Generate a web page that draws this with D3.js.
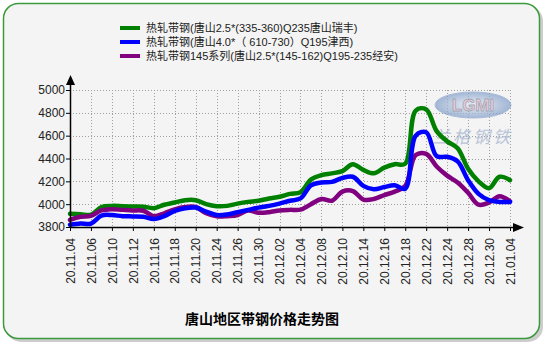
<!DOCTYPE html>
<html><head><meta charset="utf-8">
<script src="https://cdn.jsdelivr.net/npm/d3@7"></script>
<style>body{margin:0;background:#fff}</style>
</head><body>
<svg id="c" width="546" height="345"></svg>
<script>
const dates = ["20.11.04","20.11.05","20.11.06","20.11.09","20.11.10","20.11.11","20.11.12","20.11.13","20.11.16","20.11.17","20.11.18","20.11.19","20.11.20","20.11.23","20.11.24","20.11.25","20.11.26","20.11.27","20.11.30","20.12.01","20.12.02","20.12.03","20.12.04","20.12.07","20.12.08","20.12.09","20.12.10","20.12.11","20.12.14","20.12.15","20.12.16","20.12.17","20.12.18","20.12.21","20.12.22","20.12.23","20.12.24","20.12.25","20.12.28","20.12.29","20.12.30","20.12.31","21.01.04"];
const tickLabels = ["20.11.04","20.11.06","20.11.10","20.11.12","20.11.16","20.11.18","20.11.20","20.11.24","20.11.26","20.11.30","20.12.02","20.12.04","20.12.08","20.12.10","20.12.14","20.12.16","20.12.18","20.12.22","20.12.24","20.12.28","20.12.30","21.01.04"];
const yTicks = [3800,4000,4200,4400,4600,4800,5000];
const seriesNames = ["热轧带钢(唐山2.5*(335-360)Q235唐山瑞丰)","热轧带钢(唐山4.0*（ 610-730）Q195津西)","热轧带钢145系列(唐山2.5*(145-162)Q195-235经安)"];
const seriesColors = ["#008000","#0000ff","#800080"];
const greenValues = [3915,3912,3908,3975,3985,3982,3980,3978,3965,3995,4015,4035,4035,4000,3982,3985,4005,4020,4030,4050,4065,4090,4105,4215,4255,4270,4290,4350,4300,4270,4320,4350,4355,4820,4830,4640,4550,4490,4310,4200,4140,4240,4210];
const blueValues = [3820,3830,3830,3900,3905,3895,3893,3890,3870,3895,3940,3965,3970,3935,3905,3910,3930,3950,3970,3985,4005,4030,4050,4165,4190,4195,4230,4240,4160,4130,4150,4165,4135,4600,4630,4420,4415,4375,4210,4090,4035,4020,4020];
const purpleValues = [3862,3890,3898,3945,3955,3950,3945,3942,3895,3920,3955,3975,3975,3920,3893,3895,3905,3945,3925,3930,3945,3950,3952,4000,4045,4030,4110,4115,4040,4045,4080,4110,4160,4430,4440,4330,4250,4190,4100,3995,4015,4070,4025];
const title = "唐山地区带钢价格走势图";

const svg = d3.select("#c");
const cjk = "'Liberation Sans', Arial, 'Noto Sans CJK SC', sans-serif";

// card
svg.append("rect").attr("x",6).attr("y",6).attr("width",537).attr("height",336).attr("rx",15)
  .attr("fill","#b8b8b8").attr("opacity",0.7);
svg.append("rect").attr("x",3.5).attr("y",3.5).attr("width",536).attr("height",335).attr("rx",15)
  .attr("fill","#f4f4f4").attr("stroke","#3c9a3c").attr("stroke-width",1.5);

const x = d3.scalePoint().domain(dates).range([70,510]);
const y = d3.scaleLinear().domain([3800,5000]).range([227,90]);

// grid
const grid = svg.append("g").attr("stroke","#a0a0a0").attr("stroke-dasharray","1,2").attr("stroke-width",1);
yTicks.slice(1).forEach(v=>{
  grid.append("line").attr("x1",70).attr("x2",510).attr("y1",Math.round(y(v))+0.5).attr("y2",Math.round(y(v))+0.5);
});
tickLabels.slice(1).forEach(d=>{
  grid.append("line").attr("x1",Math.round(x(d))+0.5).attr("x2",Math.round(x(d))+0.5).attr("y1",y(5000)).attr("y2",y(3800));
});

// watermark
const wm = svg.append("g").attr("opacity",0.7);
const grad = svg.append("defs").append("radialGradient").attr("id","wg");
grad.append("stop").attr("offset","0%").attr("stop-color","#e8eef8");
grad.append("stop").attr("offset","100%").attr("stop-color","#7f9cc8");
wm.append("ellipse").attr("cx",473).attr("cy",105).attr("rx",38).attr("ry",13).attr("fill","url(#wg)").attr("stroke","#8aa4cc");
wm.append("text").attr("x",473).attr("y",111).attr("text-anchor","middle").attr("font-family","'Liberation Sans',Arial").attr("font-size",17).attr("font-weight","bold")
  .attr("fill","#f4b8c4").attr("stroke","#7888a0").attr("stroke-width",0.8).text("LGMI");
wm.append("text").attr("x",473).attr("y",143).attr("text-anchor","middle").attr("font-family","'Noto Sans CJK SC'").attr("font-size",17).attr("font-style","italic")
  .attr("fill","#9fb0cc").attr("letter-spacing",3).text("兰格钢铁");

// lines
const line = d3.line().x((d,i)=>x(dates[i])).y(d=>y(d)).curve(d3.curveCatmullRom.alpha(0.5));
[[greenValues,0],[purpleValues,2],[blueValues,1]].forEach(([vals,k])=>{
  svg.append("path").attr("d",line(vals)).attr("fill","none").attr("stroke",seriesColors[k])
    .attr("stroke-width",4.5).attr("stroke-linejoin","round").attr("stroke-linecap","round");
});

// y axis
const ya = svg.append("g").attr("transform","translate(70,0)")
  .call(d3.axisLeft(y).tickValues(yTicks).tickSizeInner(4).tickSizeOuter(0).tickPadding(1).tickFormat(d3.format("d")));
ya.select(".domain").remove();
ya.selectAll("line").attr("stroke","#000");
ya.selectAll("text").attr("font-family",cjk).attr("font-size",12).attr("fill","#222");

// x axis
const xa = svg.append("g").attr("transform","translate(0,227)")
  .call(d3.axisBottom(x).tickValues(tickLabels).tickSizeInner(4).tickSizeOuter(0));
xa.select(".domain").remove();
xa.selectAll("line").attr("stroke","#000");
xa.selectAll("text").attr("font-family",cjk).attr("font-size",12).attr("fill","#222")
  .attr("transform","rotate(-90)").attr("text-anchor","end").attr("x",-11).attr("y",0).attr("dy","0.35em");

// axis lines + arrows
svg.append("line").attr("x1",70.5).attr("x2",70.5).attr("y1",228).attr("y2",82).attr("stroke","#000").attr("stroke-width",1.5);
svg.append("line").attr("x1",70).attr("x2",515).attr("y1",227.5).attr("y2",227.5).attr("stroke","#000").attr("stroke-width",1.5);
svg.append("path").attr("d","M70.5,75 L66,85 L75,85 Z").attr("fill","#000");
svg.append("path").attr("d","M524,227.5 L513,223 L513,232 Z").attr("fill","#000");

// legend
const lg = svg.append("g");
seriesNames.forEach((n,i)=>{
  const yy = 28 + i*14;
  lg.append("line").attr("x1",120).attr("x2",140).attr("y1",yy).attr("y2",yy).attr("stroke",seriesColors[i]).attr("stroke-width",4);
  lg.append("text").attr("x",146).attr("y",yy).attr("dy","0.36em").attr("font-family",cjk).attr("font-size",11).attr("fill","#222").text(n);
});

// title
svg.append("text").attr("x",262).attr("y",324).attr("text-anchor","middle").attr("font-family","'Noto Sans CJK SC'")
  .attr("font-size",14).attr("font-weight","bold").attr("fill","#000").text(title);
</script>
</body></html>
